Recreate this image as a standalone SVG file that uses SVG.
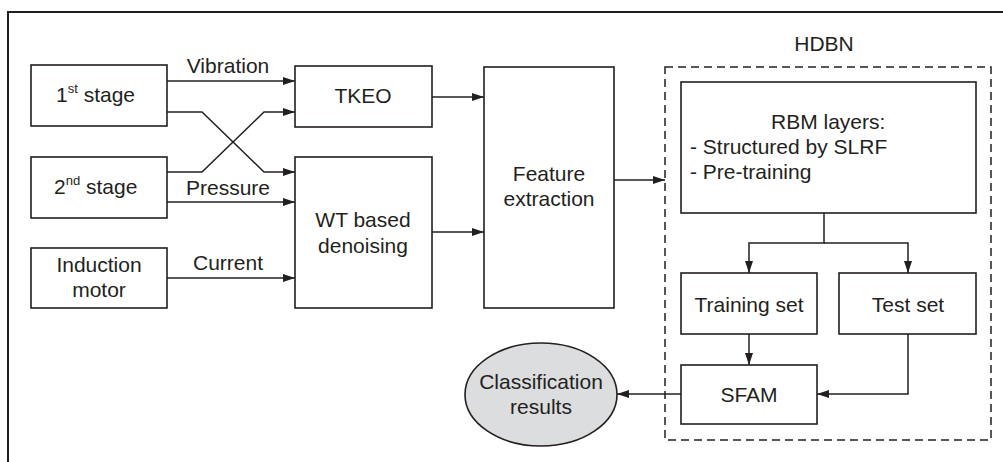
<svg xmlns="http://www.w3.org/2000/svg" width="1003" height="462" viewBox="0 0 1003 462">
<style>
text{font-family:"Liberation Sans",Arial,sans-serif;font-size:21px;fill:#231f20}
.c{text-anchor:middle}
.box{fill:#fff;stroke:#231f20;stroke-width:1.6}
.ln{fill:none;stroke:#231f20;stroke-width:1.5}
.sup{font-size:13px}
</style>
<defs>
<marker id="ah" viewBox="0 0 12 8" refX="12" refY="4" markerWidth="12" markerHeight="8" markerUnits="userSpaceOnUse" orient="auto">
<path d="M0,0 L12,4 L0,8 Z" fill="#231f20"/>
</marker>
</defs>
<rect width="1003" height="462" fill="#fff"/>
<path d="M8,462 V12 H1003" fill="none" stroke="#231f20" stroke-width="2"/>
<g id="hdbn">
<rect x="665" y="67" width="326" height="373" fill="none" stroke="#231f20" stroke-width="1.5" stroke-dasharray="8,5"/>
<text class="c" x="824" y="51">HDBN</text>
</g>
<g id="stage1"><rect class="box" x="31" y="65" width="136" height="61"/><text x="56" y="102">1<tspan class="sup" dy="-9">st</tspan><tspan dy="9"> stage</tspan></text></g>
<g id="stage2"><rect class="box" x="31" y="157" width="136" height="61"/><text x="54" y="194">2<tspan class="sup" dy="-9">nd</tspan><tspan dy="9"> stage</tspan></text></g>
<g id="motor"><rect class="box" x="31" y="248" width="136" height="60"/><text class="c" x="99" y="272">Induction</text><text class="c" x="99" y="297">motor</text></g>
<g id="tkeo"><rect class="box" x="295" y="66" width="137" height="61"/><text class="c" x="363" y="103">TKEO</text></g>
<g id="wt"><rect class="box" x="295" y="157" width="137" height="151"/><text class="c" x="363" y="227">WT based</text><text class="c" x="363" y="253">denoising</text></g>
<g id="fe"><rect class="box" x="484" y="67" width="130" height="241"/><text class="c" x="549" y="181">Feature</text><text class="c" x="549" y="206">extraction</text></g>
<g id="rbm"><rect class="box" x="681" y="82" width="295" height="131"/><text x="771" y="129">RBM layers:</text><text x="690" y="154">- Structured by SLRF</text><text x="690" y="179">- Pre-training</text></g>
<g id="train"><rect class="box" x="681" y="273" width="136" height="61"/><text class="c" x="749" y="312">Training set</text></g>
<g id="test"><rect class="box" x="839" y="273" width="137" height="61"/><text class="c" x="908" y="312">Test set</text></g>
<g id="sfam"><rect class="box" x="681" y="365" width="136" height="59"/><text class="c" x="749" y="402">SFAM</text></g>
<g id="result"><ellipse cx="541" cy="394.5" rx="76" ry="51.5" fill="#dcdddf" stroke="#231f20" stroke-width="1.6"/><text class="c" x="541" y="389">Classification</text><text class="c" x="541" y="414">results</text></g>
<g id="connectors">
<path class="ln" d="M167,81 H295" marker-end="url(#ah)"/>
<path class="ln" d="M167,112 H202 L264,172 H295" marker-end="url(#ah)"/>
<path class="ln" d="M167,172 H202 L264,112 H295" marker-end="url(#ah)"/>
<path class="ln" d="M167,202 H295" marker-end="url(#ah)"/>
<path class="ln" d="M167,278 H295" marker-end="url(#ah)"/>
<path class="ln" d="M432,97 H484" marker-end="url(#ah)"/>
<path class="ln" d="M432,232 H484" marker-end="url(#ah)"/>
<path class="ln" d="M614,180 H665" marker-end="url(#ah)"/>
<path class="ln" d="M824,213 V243 H749 V273" marker-end="url(#ah)"/>
<path class="ln" d="M824,243 H908 V273" marker-end="url(#ah)"/>
<path class="ln" d="M749,334 V365" marker-end="url(#ah)"/>
<path class="ln" d="M908,334 V394 H817" marker-end="url(#ah)"/>
<path class="ln" d="M681,394 H617" marker-end="url(#ah)"/>
<text class="c" x="228" y="73">Vibration</text>
<text class="c" x="228" y="195">Pressure</text>
<text class="c" x="228" y="270">Current</text>
</g>
</svg>
